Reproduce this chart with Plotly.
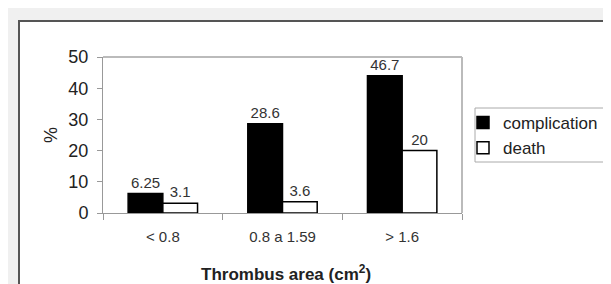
import plotly.graph_objects as go

categories = ["< 0.8", "0.8 a 1.59", "> 1.6"]
complication = [6.25, 28.6, 44.0]
complication_labels = ["6.25", "28.6", "46.7"]
death = [3.1, 3.6, 20.0]
death_labels = ["3.1", "3.6", "20"]
y_ticks = [0, 10, 20, 30, 40, 50]

W, H = 611, 284
L, R, T, B = 95, 157, 49, 79
PW, PH = W - L - R, H - T - B

regular = "Liberation Sans, Arial, Helvetica"


def px_x(x):
    return (x - L) / PW


def px_y(y):
    return (H - B - y) / PH


fig = go.Figure()
fig.add_trace(go.Bar(
    x=categories, y=complication, name="complication",
    marker=dict(color="black", line=dict(color="black", width=1.5)),
    text=complication_labels, textposition="outside",
    textfont=dict(family=regular, size=15, color="#333333"),
    cliponaxis=False,
))
fig.add_trace(go.Bar(
    x=categories, y=death, name="death",
    marker=dict(color="white", line=dict(color="black", width=1.5)),
    text=death_labels, textposition="outside",
    textfont=dict(family=regular, size=15, color="#333333"),
    cliponaxis=False,
))

fig.update_layout(
    template="none",
    width=W, height=H,
    margin=dict(l=L, r=R, t=T, b=B, autoexpand=False),
    paper_bgcolor="#f0f0f0",
    plot_bgcolor="white",
    barmode="group",
    bargap=0.42,
    bargroupgap=0,
    showlegend=True,
    legend=dict(
        x=px_x(455), xanchor="left", y=px_y(97), yanchor="top",
        bgcolor="rgba(0,0,0,0)", borderwidth=0,
        font=dict(family=regular, size=17, color="#222222"),
        itemwidth=30, tracegroupgap=0,
    ),
    xaxis=dict(
        type="category",
        tickson="boundaries",
        ticks="outside", ticklen=6, tickcolor="#999999", tickwidth=1,
        showline=True, linecolor="#999999", linewidth=1,
        tickfont=dict(family=regular, size=15, color="#333333"),
        ticklabelstandoff=10,
        showgrid=False, automargin=False,
    ),
    yaxis=dict(
        range=[0, 50], tickvals=y_ticks,
        ticks="outside", ticklen=5, tickcolor="#999999", tickwidth=1,
        showline=True, linecolor="#999999", linewidth=1,
        tickfont=dict(family=regular, size=18, color="#222222"),
        ticklabelstandoff=5,
        showgrid=False, zeroline=False, automargin=False,
    ),
    shapes=[
        # white panel with dark border
        dict(type="rect", xref="paper", yref="paper",
             x0=px_x(11), x1=px_x(W + 20), y0=px_y(H + 20), y1=px_y(13),
             fillcolor="white", line=dict(color="#555555", width=2),
             layer="below"),
        # legend frame
        dict(type="rect", xref="paper", yref="paper",
             x0=px_x(467), x1=px_x(607), y0=px_y(154), y1=px_y(100),
             fillcolor="white", line=dict(color="#aaaaaa", width=1),
             layer="below"),
        # plot area top/right border
        dict(type="line", xref="paper", yref="paper", x0=0, x1=1, y0=1, y1=1,
             line=dict(color="#bbbbbb", width=2)),
        dict(type="line", xref="paper", yref="paper", x0=1, x1=1, y0=0, y1=1,
             line=dict(color="#bbbbbb", width=2)),
    ],
    annotations=[
        dict(text="%", xref="paper", yref="paper",
             x=px_x(43), xanchor="center", y=0.5, yanchor="middle",
             textangle=-90,
             showarrow=False, font=dict(family=regular, size=18, color="#222222")),
        dict(text="<b>Thrombus area (cm<sup>2</sup>)</b>", xref="paper", yref="paper",
             x=px_x(278), xanchor="center",
             y=px_y(265), yanchor="middle",
             showarrow=False, font=dict(family=regular, size=17, color="#222222")),
    ],
)

fig.write_html("out.html")
